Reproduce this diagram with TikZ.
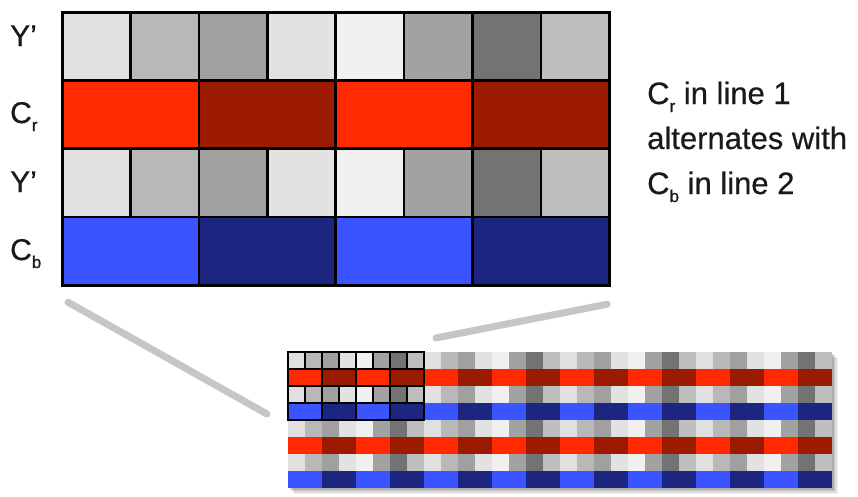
\documentclass[tikz,border=0pt]{standalone}
\usepackage{fontspec}
\setmainfont{Liberation Sans}
\newfontfamily\heavysans[FakeBold=0.5]{Liberation Sans}
\usetikzlibrary{calc}

% luma shades, one per column of a block of eight
\definecolor{ya}{HTML}{E0E0E0}
\definecolor{yb}{HTML}{B8B8B8}
\definecolor{yc}{HTML}{A0A0A0}
\definecolor{yd}{HTML}{E2E2E2}
\definecolor{ye}{HTML}{F0F0F0}
\definecolor{yf}{HTML}{A2A2A2}
\definecolor{yg}{HTML}{737373}
\definecolor{yh}{HTML}{BEBEBE}
% chroma shades
\definecolor{cra}{HTML}{FF2A00}
\definecolor{crb}{HTML}{9C1A00}
\definecolor{cba}{HTML}{3A55FF}
\definecolor{cbb}{HTML}{1C2680}
\definecolor{zoomline}{HTML}{C6C6C6}
\definecolor{ink}{HTML}{1A1A1A}

\newcommand{\chromasub}[1]{\raisebox{-8pt}{\fontsize{17}{17}\selectfont #1}}

\begin{document}
\begin{tikzpicture}[x=1pt,y=-1pt,
    bigcell/.style={draw=black,line width=2.6pt},
    smallcell/.style={draw=black,line width=2.1pt},
    rowlabel/.style={anchor=base west,inner sep=0pt,text=ink,font=\heavysans\fontsize{30}{30}\selectfont},
    note/.style={anchor=base west,inner sep=0pt,text=ink,font=\heavysans\fontsize{31}{31}\selectfont},
    zoomlink/.style={draw=zoomline,line width=7pt,line cap=round}]

\useasboundingbox (0,0) rectangle (858,496);
\fill[white] (0,0) rectangle (858,496);

% ---------- enlarged block: 8 luma columns, 4 chroma columns ----------
\def\bx{62}\def\by{12}\def\bw{68.4}\def\bh{68.3}
\foreach \c [count=\i from 0] in {ya,yb,yc,yd,ye,yf,yg,yh} {
  \filldraw[bigcell,fill=\c] (\bx+\i*\bw,\by) rectangle ++(\bw,\bh);
  \filldraw[bigcell,fill=\c] (\bx+\i*\bw,\by+2*\bh) rectangle ++(\bw,\bh);
}
\foreach \c [count=\i from 0] in {cra,crb,cra,crb}
  \filldraw[bigcell,fill=\c] (\bx+2*\i*\bw,\by+\bh) rectangle ++(2*\bw,\bh);
\foreach \c [count=\i from 0] in {cba,cbb,cba,cbb}
  \filldraw[bigcell,fill=\c] (\bx+2*\i*\bw,\by+3*\bh) rectangle ++(2*\bw,\bh);
\draw[black,line width=3pt] (\bx,\by) rectangle (\bx+8*\bw,\by+4*\bh);
\coordinate (bigBL) at (\bx,\by+4*\bh);
\coordinate (bigBR) at (\bx+8*\bw,\by+4*\bh);

% row labels
\node[rowlabel] (lab1) at (10,46) {Y’};
\node[rowlabel] (lab2) at (10,123) {C\chromasub{r}};
\node[rowlabel] (lab3) at (10,192) {Y’};
\node[rowlabel] (lab4) at (10,260) {C\chromasub{b}};

% explanation
\node[note] (note1) at (647,104) {C\chromasub{r} in line 1};
\node[note] (note2) at (647,149) {alternates with};
\node[note] (note3) at (647,194) {C\chromasub{b} in line 2};

% ---------- full frame: 32 x 8 cells ----------
\def\sx{288}\def\sy{352}\def\sc{17}
% soft drop shadow
\foreach \o/\a in {6/0.06,4.5/0.08,3/0.1,1.5/0.12}
  \fill[black,opacity=\a] (\sx+\o,\sy+\o) rectangle (\sx+32*\sc+\o,\sy+8*\sc+\o);
\foreach \r in {0,2,4,6} {
  \foreach \c [count=\i from 0] in {ya,yb,yc,yd,ye,yf,yg,yh} {
    \foreach \k in {0,8,16,24}
      \fill[\c] (\sx+\i*\sc+\k*\sc,\sy+\r*\sc) rectangle ++(\sc,\sc);
  }
}
\foreach \r/\ca/\cb in {1/cra/crb,3/cba/cbb,5/cra/crb,7/cba/cbb} {
  \foreach \k in {0,4,...,28} {
    \fill[\ca] (\sx+\k*\sc,\sy+\r*\sc) rectangle ++(2*\sc,\sc);
    \fill[\cb] (\sx+\k*\sc+2*\sc,\sy+\r*\sc) rectangle ++(2*\sc,\sc);
  }
}
% outlined block in the corner of the frame
\foreach \c [count=\i from 0] in {ya,yb,yc,yd,ye,yf,yg,yh} {
  \filldraw[smallcell,fill=\c] (\sx+\i*\sc,\sy) rectangle ++(\sc,\sc);
  \filldraw[smallcell,fill=\c] (\sx+\i*\sc,\sy+2*\sc) rectangle ++(\sc,\sc);
}
\foreach \c [count=\i from 0] in {cra,crb,cra,crb}
  \filldraw[smallcell,fill=\c] (\sx+2*\i*\sc,\sy+\sc) rectangle ++(2*\sc,\sc);
\foreach \c [count=\i from 0] in {cba,cbb,cba,cbb}
  \filldraw[smallcell,fill=\c] (\sx+2*\i*\sc,\sy+3*\sc) rectangle ++(2*\sc,\sc);
\draw[black,line width=2.6pt] (\sx,\sy) rectangle (\sx+8*\sc,\sy+4*\sc);
\coordinate (smallTL) at (\sx,\sy);

% zoom lines joining the block and its enlargement
\coordinate (zlA) at ($(bigBL)+(6,17)$);
\coordinate (zlB) at ($(smallTL)+(-21,62)$);
\coordinate (zrA) at ($(bigBR)+(-2,19)$);
\coordinate (zrB) at ($(smallTL)+(148,-14)$);
\draw[zoomlink] (zlA) -- (zlB);
\draw[zoomlink] (zrB) -- (zrA);
\end{tikzpicture}
\end{document}
